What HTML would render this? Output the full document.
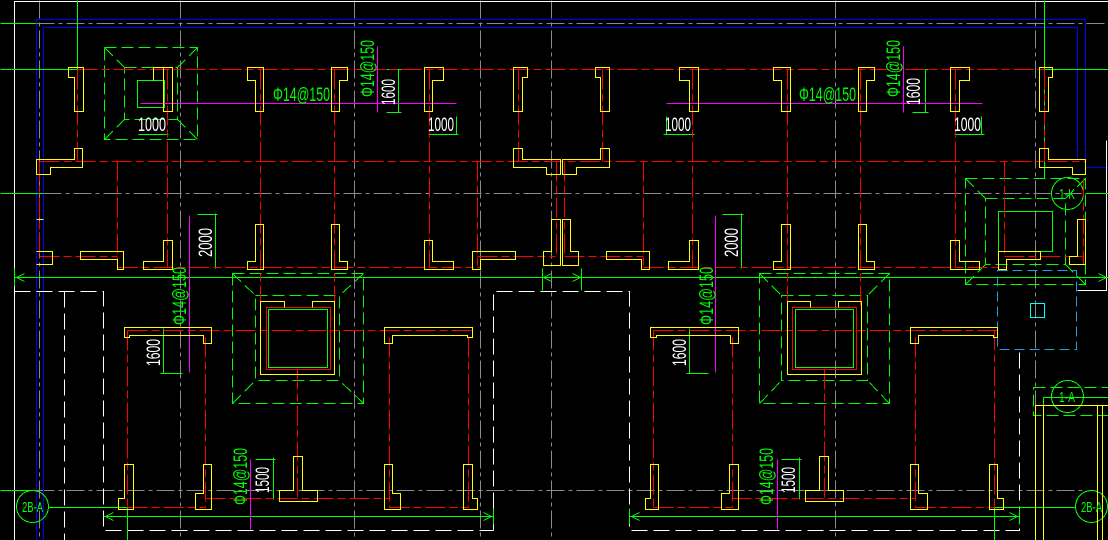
<!DOCTYPE html>
<html><head><meta charset="utf-8">
<style>
html,body{margin:0;padding:0;background:#000;}
svg{display:block;}
text{font-family:"Liberation Sans",sans-serif;}
</style></head>
<body>
<svg width="1108" height="540" viewBox="0 0 1108 540" xmlns="http://www.w3.org/2000/svg">
<rect width="1108" height="540" fill="#000"/>
<g transform="translate(0.5,0.5)" fill="none" stroke-width="1" shape-rendering="crispEdges">

<!-- gray dashed grid -->
<g stroke="#8a8a8a" stroke-dasharray="18 4 4 4">
<path d="M39 0V540M180 0V540M354 0V540M480 0V540M551 0V540M835 0V540M1035 0V540"/>
<path d="M36 23H1108M43 193H1085M36 490H1085"/>
</g>

<!-- blue -->
<g stroke="#0000ff">
<path d="M36 540V19H1085V167H1108"/>
<path d="M43 540V27H1077V159"/>
</g>

<!-- white -->
<g stroke="#ffffff">
<path d="M14 540V1H1108"/>
<path d="M1106 140V290H1077"/>
</g>
<g stroke="#ffffff" stroke-dasharray="16 6">
<path d="M14 291H103V530H493"/>
<path d="M64 291V540"/>
<path d="M493 530V291H629V530H1019V349"/>
</g>

<!-- green solid -->
<g stroke="#00ff00">
<path d="M14 277H1108M14 268V286"/>
<path d="M77 0V69H0M0 23H36M0 193H43M0 490H36"/>
<path d="M1044 0V178M1044 69H1108M1085 193H1108"/>
<path d="M103 516H493M629 516H1019"/>
<path d="M48 507H127M127 507V540"/>
<path d="M994 507H1075M994 507V540"/>
<path d="M542 268V290M581 268V290M493 508V524M629 508V524M1019 508V524"/>
<path d="M1043 397H1108M1043 405H1108M1043 397V405"/>
<!-- dims -->
<path d="M138 134H168M428 134H458M456 116V134M663 134H694M666 116V134M954 134H984M981 116V134"/>
<path d="M398 69V112M386 69H401M386 112H401"/>
<path d="M925 69V112M912 69H928M912 112H928"/>
<path d="M215 213V268M197 214H217"/>
<path d="M741 213V268M722 214H743"/>
<path d="M163 328V373M160 373H182"/>
<path d="M689 328V373M686 373H708"/>
<path d="M273 457V499M255 459H275"/>
<path d="M799 457V499M781 459H801"/>
<!-- arrows -->
<path d="M16 277L24 273M16 277L24 281M1106 277L1098 273M1106 277L1098 281M543 277L551 273M543 277L551 281M580 277L572 273M580 277L572 281"/>
<path d="M105 516L113 512M105 516L113 520M491 516L483 512M491 516L483 520M631 516L639 512M631 516L639 520M1017 516L1009 512M1017 516L1009 520"/>
</g>
<g stroke="#00ff00">
<circle cx="32" cy="506" r="16"/>
<circle cx="1091" cy="506" r="16"/>
<circle cx="1067" cy="396" r="16"/>
<circle cx="1067" cy="193" r="16"/>
</g>

<!-- green dashed footings -->
<g stroke="#00ff00" stroke-dasharray="12 5">
<rect x="104" y="47" width="93" height="92"/>
<rect x="124" y="67" width="53" height="52"/>
<path d="M104 47L124 67M197 47L177 67M104 139L124 119M197 139L177 119"/>
<rect x="232" y="273" width="131" height="130"/>
<rect x="255" y="295" width="84" height="85"/>
<path d="M232 273L255 295M363 273L339 295M232 403L255 380M363 403L339 380"/>
<rect x="759" y="273" width="130" height="130"/>
<rect x="781" y="295" width="86" height="85"/>
<path d="M759 273L781 295M889 273L867 295M759 403L781 380M889 403L867 380"/>
<rect x="965" y="178" width="120" height="106"/>
<rect x="985" y="198" width="80" height="66"/>
<path d="M965 178L985 198M1085 178L1065 198M965 284L985 264M1085 284L1065 264"/>
<rect x="1033" y="387" width="75" height="28"/>
</g>
<g stroke="#00ff00">
<rect x="137" y="80" width="27" height="27"/>
<rect x="998" y="211" width="54" height="40"/>
<rect x="268" y="309" width="59" height="58"/>
<rect x="795" y="309" width="58" height="58"/>
</g>

<!-- cyan -->
<rect x="997" y="270" width="79" height="79" stroke="#1aa0e0" stroke-dasharray="10 5"/>
<rect x="1030" y="303" width="14" height="14" stroke="#00ffff"/>

<!-- red dashed centre lines -->
<g stroke="#ff0000" stroke-dasharray="20 4 8 4">
<path d="M77 69H1044M39 161H1085"/>
<path d="M39 256H117M477 256H555M564 256H643M1004 256H1083"/>
<path d="M117 267H480M643 267H1005"/>
<path d="M127 330H472M653 330H998"/>
<path d="M205 498H389M731 498H915"/>
<path d="M127 507H205M389 507H468M653 507H732M915 507H994"/>
<path d="M77 69V161M39 161V256M117 161V267M167 69V267M260 69V307M334 69V307"/>
<path d="M429 69V267M477 161V267M518 69V161M556 161V256M564 161V256M602 69V161M643 161V267M692 69V267"/>
<path d="M787 69V307M860 69V307M955 69V267M1004 161V256M1044 69V161M1083 178V264"/>
<path d="M127 330V507M205 337V507M297 369V498M389 337V507M468 337V507"/>
<path d="M653 330V507M732 337V507M824 369V498M915 337V507M994 330V507"/>
</g>
<g stroke="#ff0000">
<rect x="266" y="307" width="64" height="62"/>
<rect x="792" y="307" width="64" height="62"/>
</g>

<!-- magenta -->
<g stroke="#ff00ff">
<path d="M140 103H456M666 103H982"/>
<path d="M377 46V112M903 46V112M189 215V372M715 215V372M250 459V529M777 459V529"/>
</g>

<!-- yellow walls -->
<g stroke="#ffff00">
<polygon points="68,67 83,67 83,111 74,111 74,77 68,77"/>
<path d="M153 80V67H172V111H163V67"/>
<polygon points="247,67 263,67 263,111 255,111 255,80 247,80"/>
<polygon points="331,67 347,67 347,80 339,80 339,111 331,111"/>
<polygon points="424,67 443,67 443,80 432,80 432,111 424,111"/>
<polygon points="513,67 527,67 527,77 522,77 522,111 513,111"/>
<polygon points="595,67 609,67 609,111 600,111 600,77 595,77"/>
<polygon points="679,67 698,67 698,111 689,111 689,80 679,80"/>
<polygon points="773,67 790,67 790,111 781,111 781,80 773,80"/>
<polygon points="858,67 874,67 874,80 866,80 866,111 858,111"/>
<polygon points="950,67 969,67 969,80 959,80 959,111 950,111"/>
<polygon points="1039,67 1052,67 1052,77 1048,77 1048,111 1039,111"/>

<polygon points="74,148 82,148 82,167 50,167 50,174 36,174 36,159 74,159"/>
<polygon points="513,148 522,148 522,159 560,159 560,174 546,174 546,167 513,167"/>
<polygon points="609,148 600,148 600,159 562,159 562,174 576,174 576,167 609,167"/>
<polygon points="1039,148 1048,148 1048,159 1085,159 1085,174 1072,174 1072,167 1039,167"/>

<path d="M36 219H43"/>
<path d="M36 251H52V264H36"/>
<polygon points="80,251 123,251 123,269 117,269 117,259 80,259"/>
<polygon points="143,261 163,261 163,240 172,240 172,269 143,269"/>
<polygon points="255,224 263,224 263,269 247,269 247,261 255,261"/>
<polygon points="331,224 339,224 339,261 347,261 347,269 331,269"/>
<polygon points="424,240 432,240 432,261 453,261 453,269 424,269"/>
<polygon points="472,251 515,251 515,259 480,259 480,269 472,269"/>
<polygon points="551,219 560,219 560,265 543,265 543,251 551,251"/>
<polygon points="562,219 570,219 570,251 578,251 578,265 562,265"/>
<polygon points="606,251 649,251 649,269 641,269 641,259 606,259"/>
<polygon points="689,240 698,240 698,269 668,269 668,261 689,261"/>
<polygon points="781,224 790,224 790,269 773,269 773,261 781,261"/>
<polygon points="858,224 866,224 866,261 874,261 874,269 858,269"/>
<polygon points="950,240 959,240 959,261 979,261 979,269 950,269"/>
<polygon points="1077,219 1085,219 1085,264 1069,264 1069,256 1077,256"/>
<polygon points="998,251 1040,251 1040,259 1006,259 1006,269 998,269"/>

<polygon points="124,327 211,327 211,343 203,343 203,335 129,335 129,337 124,337"/>
<polygon points="124,464 133,464 133,509 118,509 118,498 124,498"/>
<polygon points="203,464 211,464 211,509 195,509 195,493 203,493"/>
<polygon points="293,456 302,456 302,490 317,490 317,501 279,501 279,490 293,490"/>
<polygon points="384,327 472,327 472,337 467,337 467,335 392,335 392,343 384,343"/>
<polygon points="384,464 392,464 392,493 400,493 400,509 384,509"/>
<polygon points="463,464 472,464 472,498 477,498 477,509 463,509"/>
<polygon points="650,327 738,327 738,343 730,343 730,335 656,335 656,337 650,337"/>
<polygon points="650,464 658,464 658,509 645,509 645,498 650,498"/>
<polygon points="729,464 738,464 738,509 721,509 721,493 729,493"/>
<polygon points="819,456 828,456 828,490 843,490 843,501 805,501 805,490 819,490"/>
<polygon points="910,327 997,327 997,337 993,337 993,335 918,335 918,343 910,343"/>
<polygon points="910,464 918,464 918,493 927,493 927,509 910,509"/>
<polygon points="989,464 997,464 997,498 1003,498 1003,509 989,509"/>

<path d="M284 307V301H260V374H334V301H312V307"/>
<path d="M810 307V301H787V374H861V301H838V307"/>

<path d="M1035 540V405H1043V540M1097 540V405M1102 540V405M1043 405H1108"/>
</g>
</g>

<!-- texts -->
<g fill="#00ff00" font-size="19">
<text x="273" y="101" textLength="57" lengthAdjust="spacingAndGlyphs">Φ14@150</text>
<text x="799" y="101" textLength="57" lengthAdjust="spacingAndGlyphs">Φ14@150</text>
<text transform="translate(374,97) rotate(-90)" textLength="57" lengthAdjust="spacingAndGlyphs">Φ14@150</text>
<text transform="translate(900,97) rotate(-90)" textLength="57" lengthAdjust="spacingAndGlyphs">Φ14@150</text>
<text transform="translate(186,325) rotate(-90)" textLength="58" lengthAdjust="spacingAndGlyphs">Φ14@150</text>
<text transform="translate(713,325) rotate(-90)" textLength="58" lengthAdjust="spacingAndGlyphs">Φ14@150</text>
<text transform="translate(247,505) rotate(-90)" textLength="57" lengthAdjust="spacingAndGlyphs">Φ14@150</text>
<text transform="translate(773,505) rotate(-90)" textLength="57" lengthAdjust="spacingAndGlyphs">Φ14@150</text>
</g>
<g fill="#00ff00" font-size="15">
<text x="22" y="512" textLength="21" lengthAdjust="spacingAndGlyphs">2B-A</text>
<text x="1081" y="512" textLength="21" lengthAdjust="spacingAndGlyphs">2B-A</text>
<text x="1059" y="402" textLength="16" lengthAdjust="spacingAndGlyphs">1-A</text>
<text x="1059" y="199" textLength="16" lengthAdjust="spacingAndGlyphs">1-K</text>
</g>
<g fill="#ffffff" font-size="19">
<text x="138" y="131" textLength="28" lengthAdjust="spacingAndGlyphs">1000</text>
<text x="428" y="131" textLength="26" lengthAdjust="spacingAndGlyphs">1000</text>
<text x="665" y="131" textLength="26" lengthAdjust="spacingAndGlyphs">1000</text>
<text x="954" y="131" textLength="27" lengthAdjust="spacingAndGlyphs">1000</text>
<text transform="translate(395,105) rotate(-90)" textLength="26" lengthAdjust="spacingAndGlyphs">1600</text>
<text transform="translate(920,105) rotate(-90)" textLength="27" lengthAdjust="spacingAndGlyphs">1600</text>
<text transform="translate(212,257) rotate(-90)" textLength="29" lengthAdjust="spacingAndGlyphs">2000</text>
<text transform="translate(738,257) rotate(-90)" textLength="29" lengthAdjust="spacingAndGlyphs">2000</text>
<text transform="translate(160,366) rotate(-90)" textLength="27" lengthAdjust="spacingAndGlyphs">1600</text>
<text transform="translate(686,366) rotate(-90)" textLength="27" lengthAdjust="spacingAndGlyphs">1600</text>
<text transform="translate(269,493) rotate(-90)" textLength="26" lengthAdjust="spacingAndGlyphs">1500</text>
<text transform="translate(795,493) rotate(-90)" textLength="26" lengthAdjust="spacingAndGlyphs">1500</text>
</g>
</svg>
</body></html>
